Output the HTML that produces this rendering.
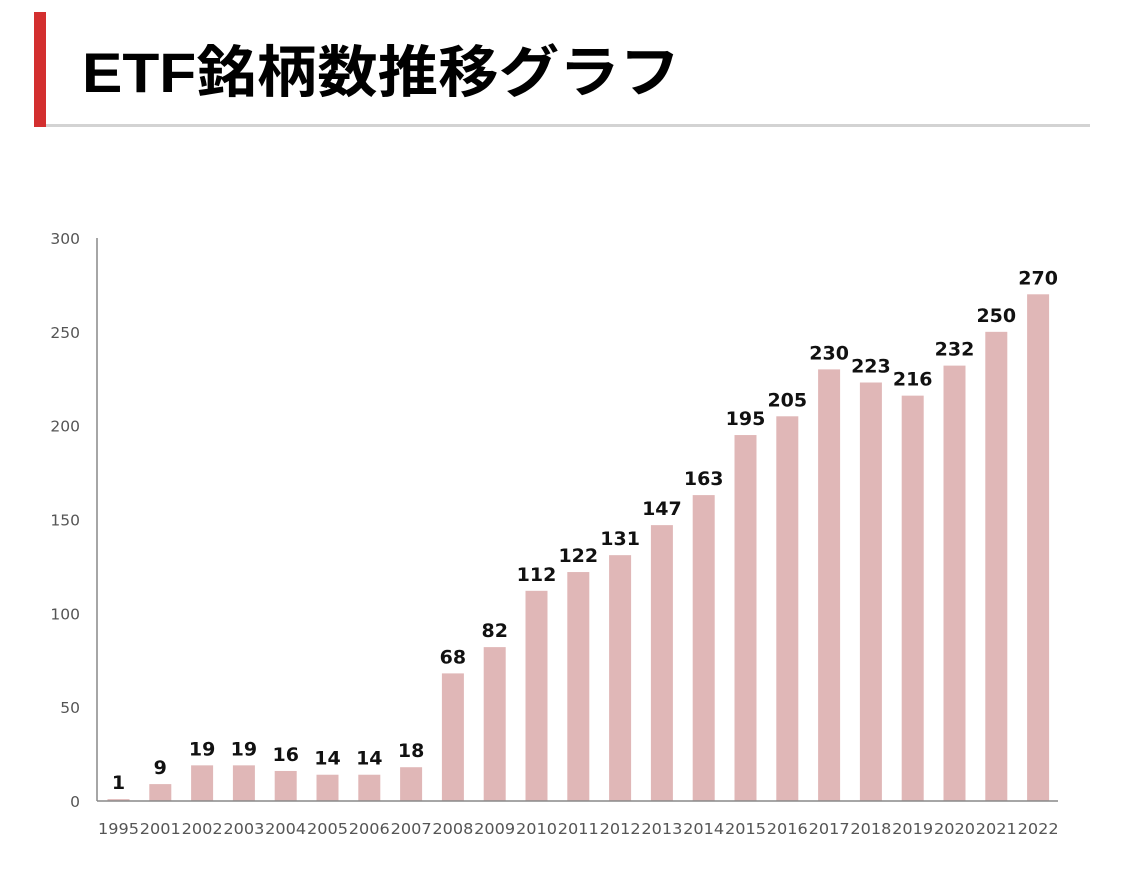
<!DOCTYPE html>
<html><head><meta charset="utf-8"><style>
html,body{margin:0;padding:0;background:#fff;width:1125px;height:875px;overflow:hidden}
svg{display:block}
</style></head><body>
<svg width="1125" height="875" xmlns="http://www.w3.org/2000/svg">
<rect x="34" y="12" width="12" height="115" fill="#d32f2f"/>
<rect x="46" y="124" width="1044" height="3" fill="#d3d3d3"/>
<text x="82" y="92" font-size="56" font-weight="bold" textLength="598" lengthAdjust="spacingAndGlyphs" font-family="'Liberation Sans','Noto Sans CJK JP',sans-serif" fill="#000">ETF銘柄数推移グラフ</text>
<g id="chart"></g>
</svg>
<script>
const categories=["1995","2001","2002","2003","2004","2005","2006","2007","2008","2009","2010","2011","2012","2013","2014","2015","2016","2017","2018","2019","2020","2021","2022"];
const values=[1,9,19,19,16,14,14,18,68,82,112,122,131,147,163,195,205,230,223,216,232,250,270];
const yTicks=[0,50,100,150,200,250,300];
const NS="http://www.w3.org/2000/svg";
const g=document.getElementById('chart');
const y0=801,y1=238,yMax=300;
const y=v=>y0-(v/yMax)*(y0-y1);
const step=41.8,firstC=118.5,bw=22;
const x=i=>firstC+i*step;
function mk(t,a,txt){const e=document.createElementNS(NS,t);for(const k in a)e.setAttribute(k,a[k]);if(txt!==undefined)e.textContent=txt;g.appendChild(e);return e;}
const font="'DejaVu Sans',sans-serif";
yTicks.forEach(v=>{
 const e=mk('text',{x:80,y:y(v)+6,'text-anchor':'end','font-size':15.5,fill:'#555','font-family':font},v);
 
 
});
const ax=mk('line',{x1:97,y1:238,x2:97,y2:801,stroke:'#888','stroke-width':1.5});


values.forEach((v,i)=>{
 const b=mk('rect',{x:x(i)-bw/2,y:y(v),width:bw,height:y0-y(v),fill:'#e0b7b7'});
 
 
 const l=mk('text',{x:x(i),y:y(v)-10,'text-anchor':'middle','font-size':19,'font-weight':'bold',fill:'#111','font-family':font},v);
 
 
 const c=mk('text',{x:x(i),y:834,'text-anchor':'middle','font-size':15,fill:'#555','font-family':font,textLength:41,lengthAdjust:'spacingAndGlyphs'},categories[i]);
 
 
});
const xa=mk('line',{x1:97,y1:801,x2:1058,y2:801,stroke:'#888','stroke-width':1.5});


</script>
</body></html>
